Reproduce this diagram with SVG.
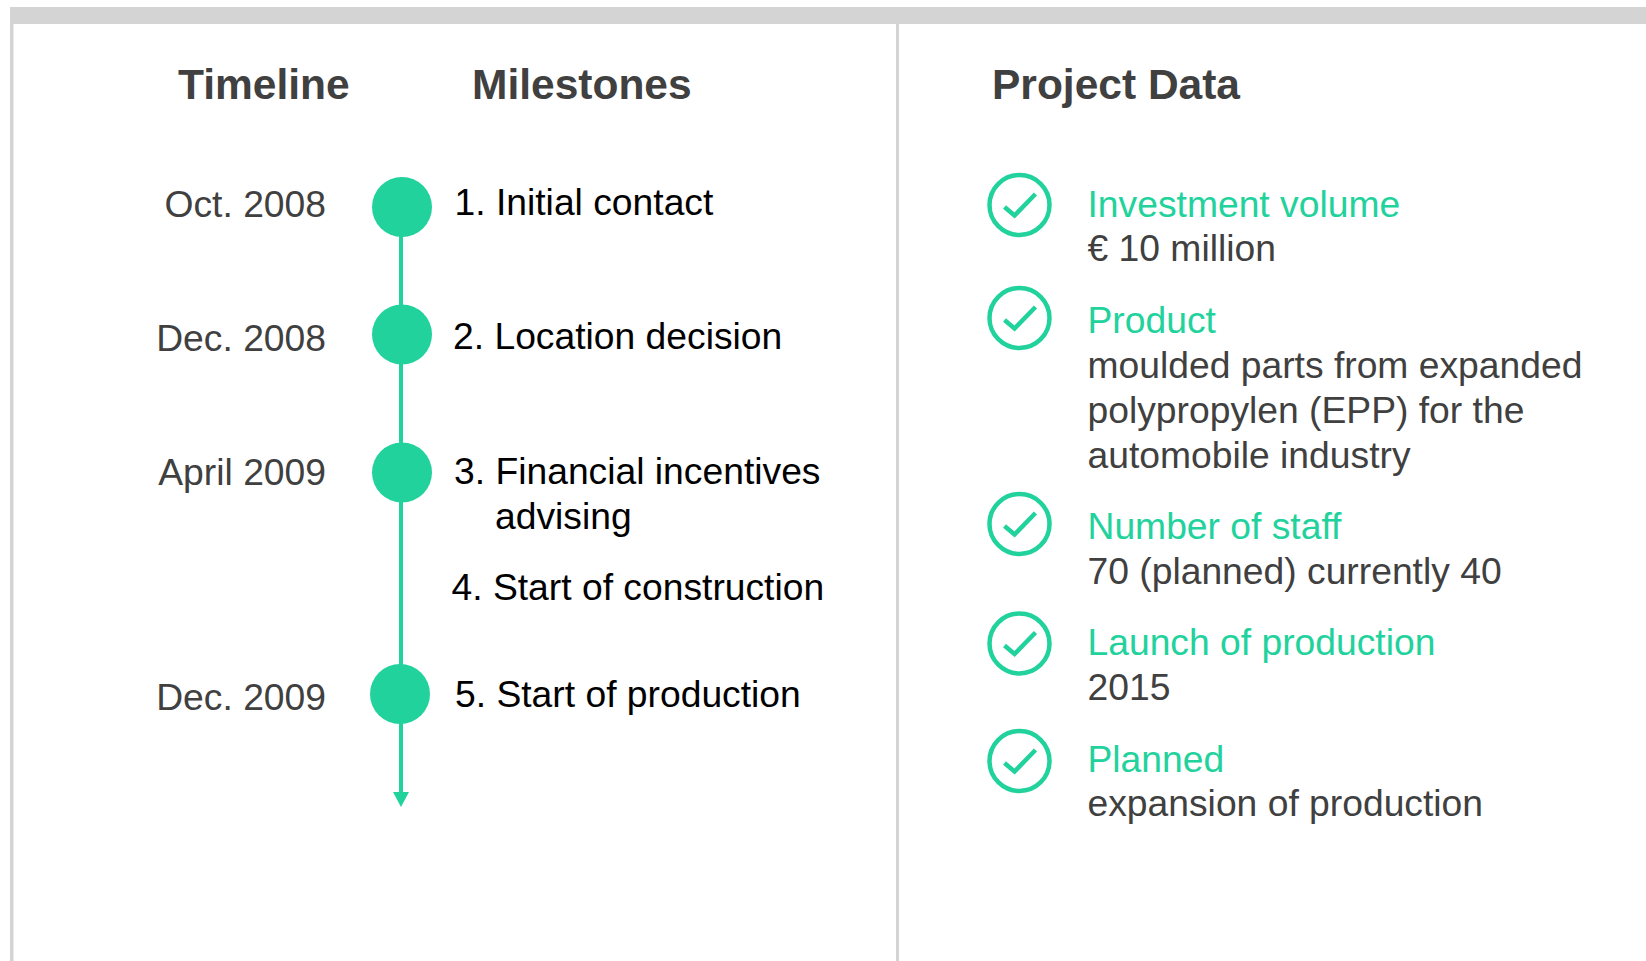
<svg xmlns="http://www.w3.org/2000/svg" width="1646" height="961" viewBox="0 0 1646 961">
<defs>
<marker id="ah" markerUnits="userSpaceOnUse" markerWidth="15" markerHeight="16" refX="0" refY="8" orient="auto" viewBox="0 0 15 16"><path d="M0 0L15 8L0 16Z" fill="#22d29c"/></marker>
</defs>
<style>
text{font-family:"Liberation Sans",Arial,sans-serif;font-size:37.25px}
.h{font-size:42.5px;font-weight:700;fill:#404040}
.d{fill:#404040;text-anchor:end}
.m{fill:#000}
.g{fill:#22d29c}
.t{fill:#404040}
.dot{fill:#22d29c}
.c{fill:none;stroke:#22d29c;stroke-width:4.500}
.ck{fill:none;stroke:#22d29c;stroke-width:4.500}
.f{fill:#d4d4d4}
</style>
<g id="frame">
<rect class="f" x="10" y="7" width="1636" height="17"/>
<rect class="f" x="10" y="7" width="3.500" height="954"/>
<rect class="f" x="896" y="24" width="3" height="937"/>
</g>
<g id="connectors"><path d="M401 208V792" stroke="#22d29c" stroke-width="4" fill="none" marker-end="url(#ah)"/></g>
<g id="headers">
<text class="h" x="178" y="99">Timeline</text>
<text class="h" x="472" y="99">Milestones</text>
<text class="h" x="992" y="99">Project Data</text>
</g>
<g id="n1"><circle class="dot" cx="402" cy="207" r="30"/><text class="d" x="326" y="217">Oct. 2008</text><text class="m" x="454.500" y="215">1. Initial contact</text></g>
<g id="n2"><circle class="dot" cx="402" cy="334.500" r="30"/><text class="d" x="326" y="351">Dec. 2008</text><text class="m" x="453" y="349">2. Location decision</text></g>
<g id="n3"><circle class="dot" cx="402" cy="472.500" r="30"/><text class="d" x="326" y="485">April 2009</text><text class="m" x="454" y="484">3. Financial incentives</text><text class="m" x="495" y="529">advising</text></g>
<g id="n4"><text class="m" x="451.500" y="600">4. Start of construction</text></g>
<g id="n5"><circle class="dot" cx="400" cy="694" r="30"/><text class="d" x="326" y="710">Dec. 2009</text><text class="m" x="455" y="707">5. Start of production</text></g>
<g id="p1"><circle class="c" cx="1019.500" cy="205" r="30"/><path class="ck" d="M1004.500 207L1014.500 215.500L1035.500 194"/><text class="g" x="1087.500" y="217">Investment volume</text><text class="t" x="1087.500" y="261">€ 10 million</text></g>
<g id="p2"><circle class="c" cx="1019.500" cy="318" r="30"/><path class="ck" d="M1004.500 320L1014.500 328.500L1035.500 307"/><text class="g" x="1087.500" y="333">Product</text><text class="t" x="1087.500" y="378">moulded parts from expanded</text><text class="t" x="1087.500" y="423">polypropylen (EPP) for the</text><text class="t" x="1087.500" y="468">automobile industry</text></g>
<g id="p3"><circle class="c" cx="1019.500" cy="524" r="30"/><path class="ck" d="M1004.500 526L1014.500 534.500L1035.500 513"/><text class="g" x="1087.500" y="539">Number of staff</text><text class="t" x="1087.500" y="584">70 (planned) currently 40</text></g>
<g id="p4"><circle class="c" cx="1019.500" cy="643.500" r="30"/><path class="ck" d="M1004.500 645.500L1014.500 654L1035.500 632.500"/><text class="g" x="1087.500" y="655">Launch of production</text><text class="t" x="1087.500" y="700">2015</text></g>
<g id="p5"><circle class="c" cx="1019.500" cy="761" r="30"/><path class="ck" d="M1004.500 763L1014.500 771.500L1035.500 750"/><text class="g" x="1087.500" y="772">Planned</text><text class="t" x="1087.500" y="816">expansion of production</text></g>
</svg>
